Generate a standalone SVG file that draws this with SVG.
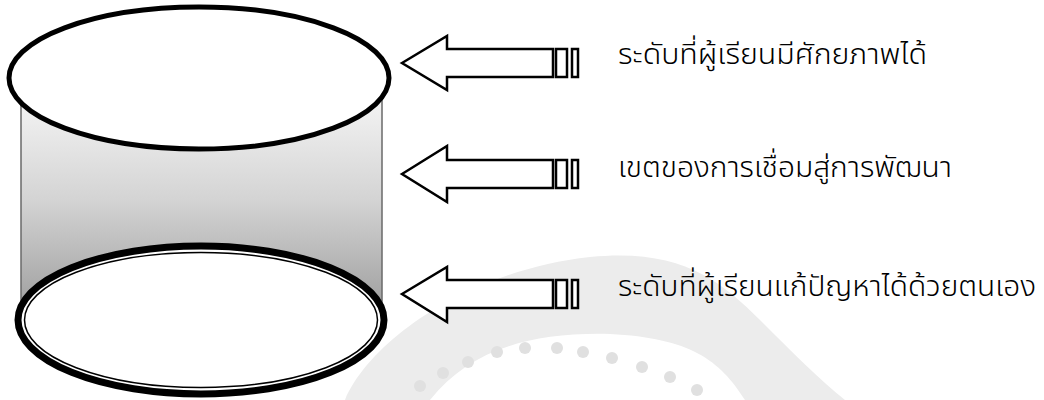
<svg xmlns="http://www.w3.org/2000/svg" width="1044" height="400" viewBox="0 0 1044 400">
  <defs>
    <linearGradient id="side" x1="0" y1="78" x2="0" y2="320" gradientUnits="userSpaceOnUse">
      <stop offset="0" stop-color="#fafafa"/>
      <stop offset="0.5" stop-color="#d4d4d4"/>
      <stop offset="1" stop-color="#9a9a9a"/>
    </linearGradient>
    <style>
      .arrow { fill: #ffffff; stroke: #000000; stroke-width: 2.5; stroke-linejoin: miter; }
      .label { font-family: "Noto Sans Thai", "Noto Sans", "DejaVu Sans", sans-serif; font-size: 29px; font-weight: 300; fill: #000000; }
      .wm { fill: #ececec; }
      .dot { fill: #e0e0e0; }
    </style>
  </defs>
  <rect width="1044" height="400" fill="#ffffff"/>

  <g id="watermark">
    <path class="wm" d="M 345 400 C 370 340, 470 270, 590 257 C 680 248, 720 280, 760 320 C 790 350, 820 380, 845 400 L 745 400 C 720 360, 690 338, 610 334 C 530 332, 470 350, 430 400 Z"/>
    <circle class="dot" cx="443" cy="373" r="6"/>
    <circle class="dot" cx="468" cy="362" r="6"/>
    <circle class="dot" cx="497" cy="352" r="6"/>
    <circle class="dot" cx="525" cy="348" r="6"/>
    <circle class="dot" cx="557" cy="348" r="6"/>
    <circle class="dot" cx="583" cy="352" r="6"/>
    <circle class="dot" cx="612" cy="358" r="6"/>
    <circle class="dot" cx="642" cy="367" r="6"/>
    <circle class="dot" cx="670" cy="377" r="6"/>
    <circle class="dot" cx="420" cy="386" r="6"/>
    <circle class="dot" cx="697" cy="390" r="6"/>
  </g>

  <g id="cylinder">
    <rect x="21" y="78" width="361" height="242" fill="url(#side)" stroke="#6a6a6a" stroke-width="1.5"/>
    <g id="bottom-ellipse">
      <ellipse cx="201" cy="320" rx="183" ry="74" fill="#ffffff" stroke="#000000" stroke-width="7"/>
      <ellipse cx="201" cy="320" rx="176.5" ry="67.5" fill="#ffffff" stroke="#000000" stroke-width="1.5"/>
    </g>
    <g id="top-ellipse">
      <ellipse cx="199" cy="78" rx="190" ry="71" fill="#ffffff" stroke="#000000" stroke-width="5"/>
    </g>
  </g>

  <g id="connectors">
    <g id="arrow-1">
      <polygon class="arrow" points="402,63 447,36 447,49 553,49 553,77 447,77 447,90"/>
      <rect class="arrow" x="556" y="49" width="11" height="28"/>
      <rect class="arrow" x="572" y="49" width="6" height="28"/>
    </g>
    <g id="arrow-2">
      <polygon class="arrow" points="402,174 447,146 447,160 553,160 553,188 447,188 447,202"/>
      <rect class="arrow" x="556" y="160" width="11" height="28"/>
      <rect class="arrow" x="572" y="160" width="6" height="28"/>
    </g>
    <g id="arrow-3">
      <polygon class="arrow" points="402,294 447,267 447,280 553,280 553,308 447,308 447,322"/>
      <rect class="arrow" x="556" y="280" width="11" height="28"/>
      <rect class="arrow" x="572" y="280" width="6" height="28"/>
    </g>
  </g>

  <g id="label-1">
    <text class="label" x="618" y="64" textLength="309" lengthAdjust="spacingAndGlyphs">ระดับที่ผู้เรียนมีศักยภาพได้</text>
  </g>
  <g id="label-2">
    <text class="label" x="618" y="177" textLength="334" lengthAdjust="spacingAndGlyphs">เขตของการเชื่อมสู่การพัฒนา</text>
  </g>
  <g id="label-3">
    <text class="label" x="618" y="296" textLength="418" lengthAdjust="spacingAndGlyphs">ระดับที่ผู้เรียนแก้ปัญหาได้ด้วยตนเอง</text>
  </g>
</svg>
